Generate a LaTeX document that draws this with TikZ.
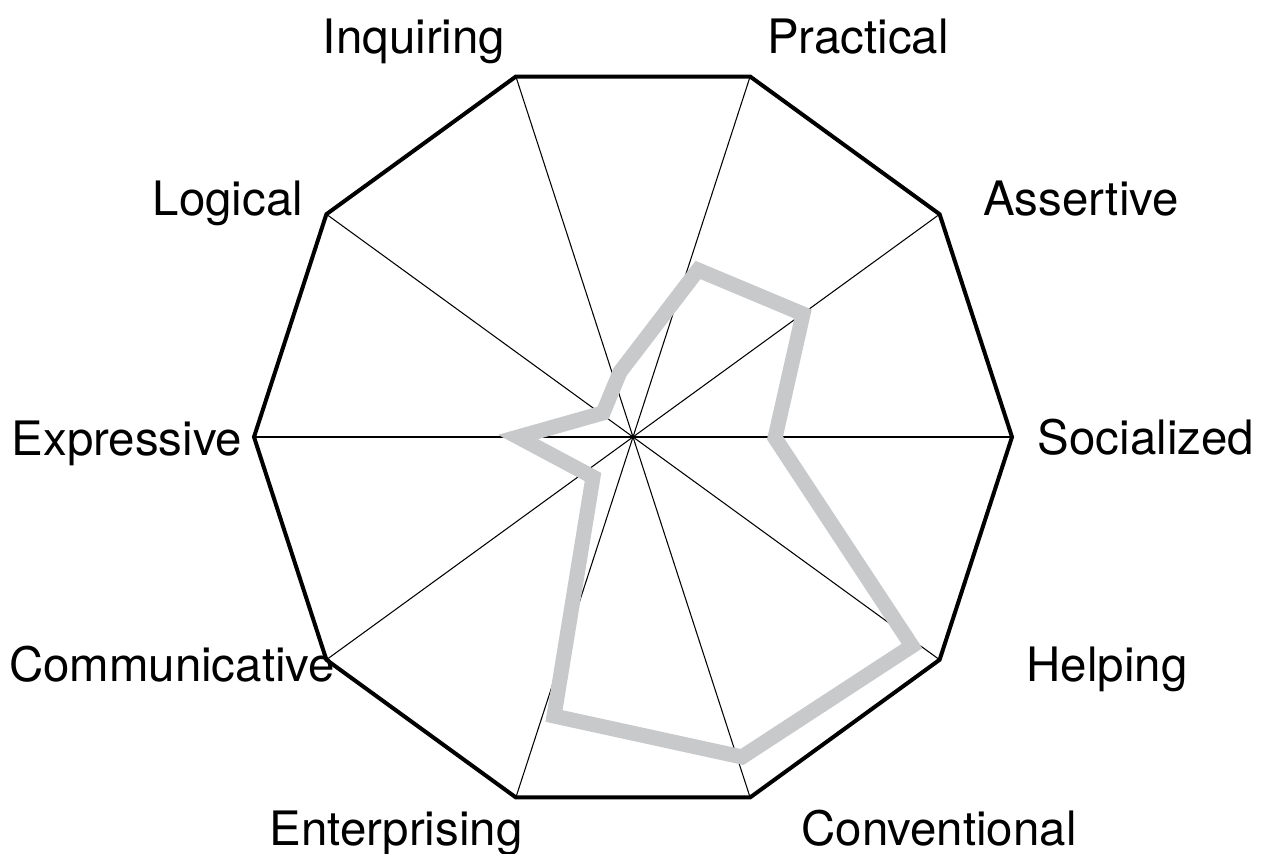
\documentclass[tikz,border=0pt]{standalone}
\usepackage{fontspec}
\setmainfont{TeX Gyre Heros}
\usetikzlibrary{calc}
\definecolor{plotgray}{RGB}{200,201,203}
\begin{document}
\begin{tikzpicture}[x=0.02cm,y=0.02cm,
  outline/.style={line width=0.08cm,line join=miter,black},
  spoke/.style={line width=0.6pt,black},
  profile/.style={line width=0.3cm,line join=miter,plotgray},
  lbl/.style={font=\fontsize{27}{30}\selectfont,inner sep=0pt,anchor=base}]
\useasboundingbox (0,0) rectangle (1264,854);
\coordinate (c) at (633,417);
\foreach \i/\a in {0/0,1/36,2/72,3/108,4/144,5/180,6/216,7/252,8/288,9/324}
  \coordinate (v\i) at ($(c)+(\a:379)$);
\foreach \i in {0,...,9} \draw[spoke] (c) -- (v\i);
\draw[outline] (v0) -- (v1) -- (v2) -- (v3) -- (v4) -- (v5) -- (v6) -- (v7) -- (v8) -- (v9) -- cycle;
\coordinate (p0) at (775,416);
\coordinate (p1) at (803,540);
\coordinate (p2) at (698,584);
\coordinate (p3) at (620,482);
\coordinate (p4) at (603,441);
\coordinate (p5) at (518,417);
\coordinate (p6) at (593,377);
\coordinate (p7) at (554,138);
\coordinate (p8) at (742,97);
\coordinate (p9) at (912,208);
\draw[profile] (p0) -- (p1) -- (p2) -- (p3) -- (p4) -- (p5) -- (p6) -- (p7) -- (p8) -- (p9) -- cycle;
\node[lbl] (socialized) at (1146,399) {Socialized};
\node[lbl] (assertive) at (1081,638) {Assertive};
\node[lbl] (practical) at (858,800) {Practical};
\node[lbl] (inquiring) at (414,800) {Inquiring};
\node[lbl] (logical) at (228,638) {Logical};
\node[lbl] (expressive) at (127,398) {Expressive};
\node[lbl] (communicative) at (172,172) {Communicative};
\node[lbl] (helping) at (1107,172) {Helping};
\node[lbl] (enterprising) at (396,8) {Enterprising};
\node[lbl] (conventional) at (939,8) {Conventional};
\end{tikzpicture}
\end{document}
